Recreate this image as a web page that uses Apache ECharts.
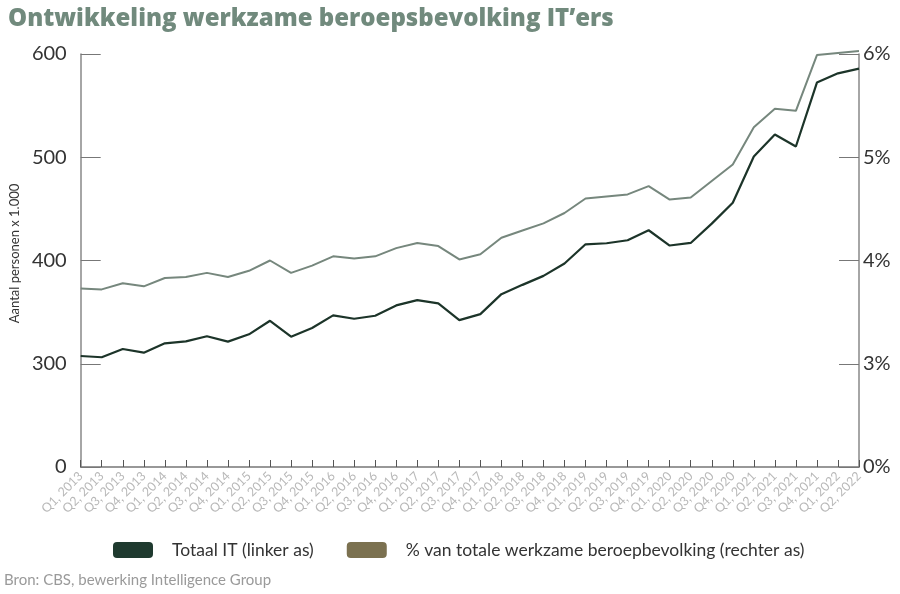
<!DOCTYPE html>
<html>
<head>
<meta charset="utf-8">
<script src="https://cdn.jsdelivr.net/npm/echarts@6/dist/echarts.min.js"></script>
<style>
  html, body { margin: 0; padding: 0; background: #fff; }
  #chart { width: 900px; height: 594px; }
</style>
</head>
<body>
<div id="chart"></div>
<script>
// kwartalen Q1 2013 t/m Q2 2022
const quarters = [];
for (let y = 2013; y <= 2022; y++) {
  for (let q = 1; q <= 4; q++) {
    if (y === 2022 && q > 2) break;
    quarters.push('Q' + q + ', ' + y);
  }
}

// Totaal IT, x 1.000 personen (linker as)
const totaalIT = [
  307.5, 306.3, 314.3, 310.7, 319.8, 321.7, 326.6, 321.4, 328.5, 341.6,
  326.2, 334.6, 346.9, 343.6, 346.5, 356.5, 361.6, 358.5, 342.3, 348.1,
  367.4, 376.4, 385.1, 397.1, 415.7, 416.7, 419.6, 429.3, 414.5, 417.0,
  435.7, 456.0, 500.8, 522.0, 510.4, 572.3, 581.3, 585.8
];

// % van totale werkzame beroepsbevolking (rechter as)
const aandeelIT = [
  3.73, 3.72, 3.78, 3.75, 3.83, 3.84, 3.88, 3.84, 3.90, 4.00,
  3.88, 3.95, 4.04, 4.02, 4.04, 4.12, 4.17, 4.14, 4.01, 4.06,
  4.22, 4.29, 4.36, 4.46, 4.60, 4.62, 4.64, 4.72, 4.59, 4.61,
  4.77, 4.93, 5.29, 5.47, 5.45, 5.99, 6.01, 6.03
];

const leftTicks = [0, 300, 400, 500, 600];   // 0 staat op de plek van 200 (gebroken as)
const rightTicks = ['0%', '3%', '4%', '5%', '6%'];

let myChart = echarts.init(document.getElementById('chart'));

let options = {
  animation: false,
  title: {
    text: 'Ontwikkeling werkzame beroepsbevolking IT\u2019ers',
    left: 3,
    top: 2,
    textStyle: {
      fontFamily: 'Open Sans',
      fontWeight: 800,
      fontSize: 24,
      color: '#718a7d'
    }
  },
  grid: {
    left: 76,
    right: 41,
    top: 54,
    bottom: 127
  },
  legend: {
    left: 108,
    top: 536,
    itemWidth: 40,
    itemHeight: 16,
    itemGap: 33,
    icon: 'roundRect',
    textStyle: {
      fontFamily: 'Lato',
      fontSize: 17.5,
      color: '#333',
      padding: [0, 0, 0, 14]
    },
    data: [
      { name: 'Totaal IT (linker as)', itemStyle: { color: '#1f3a2f' } },
      { name: '% van totale werkzame beroepbevolking (rechter as)', itemStyle: { color: '#7b7150' } }
    ]
  },
  graphic: [{
    type: 'text',
    left: 4,
    top: 573,
    style: {
      text: 'Bron: CBS, bewerking Intelligence Group',
      fontFamily: 'Lato',
      fontSize: 15,
      fill: '#9a9a9a'
    }
  }],
  xAxis: {
    type: 'category',
    data: quarters,
    boundaryGap: false,
    axisLine: { lineStyle: { color: '#777', width: 1.5 } },
    axisTick: { inside: true, length: 7, interval: 0, lineStyle: { color: '#555' } },
    axisLabel: {
      interval: 0,
      rotate: 45,
      margin: 7,
      fontFamily: 'Lato',
      fontSize: 12.5,
      color: '#b8b8b8'
    }
  },
  yAxis: [
    {
      type: 'value',
      min: 200,
      max: 600,
      interval: 100,
      name: 'Aantal personen x 1.000',
      nameLocation: 'middle',
      nameGap: 56,
      nameTextStyle: { fontFamily: 'Lato', fontSize: 13, color: '#333', padding: [0, 0, 0, 14] },
      splitLine: { show: false },
      axisLine: { show: true, lineStyle: { color: '#888', width: 1.5 } },
      axisTick: { show: true, inside: true, length: 20, lineStyle: { color: '#777' } },
      axisLabel: {
        margin: 14,
        fontFamily: 'Lato',
        fontSize: 20,
        color: '#333',
        formatter: function (v) {
          return leftTicks[(v - 200) / 100];
        }
      }
    },
    {
      type: 'value',
      min: 2,
      max: 6,
      interval: 1,
      splitLine: { show: false },
      axisLine: { show: true, lineStyle: { color: '#888', width: 1.5 } },
      axisTick: { show: true, inside: true, length: 20, lineStyle: { color: '#777' } },
      axisLabel: {
        margin: 4,
        fontFamily: 'Lato',
        fontSize: 20,
        color: '#333',
        formatter: function (v) {
          return rightTicks[v - 2];
        }
      }
    }
  ],
  series: [
    {
      name: 'Totaal IT (linker as)',
      type: 'line',
      yAxisIndex: 0,
      data: totaalIT,
      showSymbol: false,
      clip: false,
      lineStyle: { color: '#1c3429', width: 2.2 },
      itemStyle: { color: '#1c3429' }
    },
    {
      name: '% van totale werkzame beroepbevolking (rechter as)',
      type: 'line',
      yAxisIndex: 1,
      data: aandeelIT,
      showSymbol: false,
      clip: false,
      lineStyle: { color: '#76877d', width: 2 },
      itemStyle: { color: '#76877d' }
    }
  ]
};

myChart.setOption(options);
</script>
</body>
</html>
